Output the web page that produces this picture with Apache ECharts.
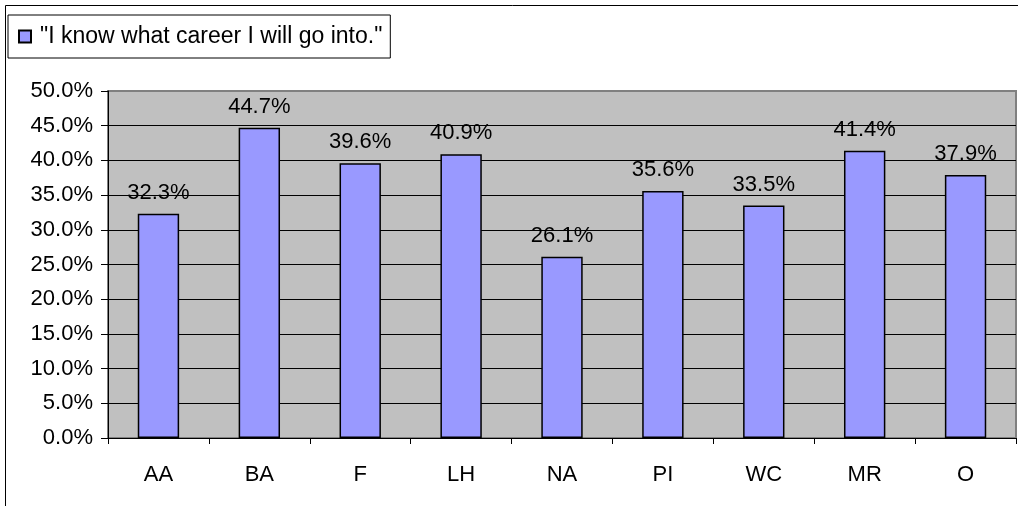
<!DOCTYPE html>
<html><head><meta charset="utf-8">
<script src="https://cdn.jsdelivr.net/npm/echarts@6/dist/echarts.min.js"></script>
<style>html,body{margin:0;padding:0;background:#fff}#c{width:1018px;height:506px}</style>
</head><body><div id="c"></div>
<script>
var categories = ["AA","BA","F","LH","NA","PI","WC","MR","O"];
var values = [32.3, 44.7, 39.6, 40.9, 26.1, 35.6, 33.5, 41.4, 37.9];
var seriesName = '"I know what career I will go into."';
var font = '"Liberation Sans", Arial, sans-serif';
var chart = echarts.init(document.getElementById('c'));
chart.setOption({
  animation: false,
  backgroundColor: '#fff',
  graphic: [
    {type:'rect', shape:{x:5.5,y:5.5,width:1030,height:520}, style:{fill:'none',stroke:'#000',lineWidth:1}, z:-1}
  ],
  legend: {
    left: 8, top: 15,
    padding: [10, 8, 10, 10],
    borderColor: '#000', borderWidth: 1,
    itemWidth: 12, itemHeight: 12, itemGap: 8,
    icon: 'rect',
    textStyle: {fontFamily: font, fontSize: 23, color: '#000', padding: [0, 0, 0, 4]},
    data: [seriesName]
  },
  grid: {left: 108, right: 2, top: 91, bottom: 68, show: true, backgroundColor: '#c0c0c0', borderColor: '#808080', borderWidth: 2},
  xAxis: {
    type: 'category', data: categories,
    axisLine: {lineStyle: {color: '#000', width: 1}},
    axisTick: {show: true, length: 6, inside: false, lineStyle: {color: '#000'}},
    axisLabel: {fontFamily: font, fontSize: 22, color: '#000', margin: 26}
  },
  yAxis: {
    type: 'value', min: 0, max: 50, interval: 5,
    axisLine: {show: true, lineStyle: {color: '#000'}},
    axisTick: {show: true, length: 7, lineStyle: {color: '#000'}},
    axisLabel: {fontFamily: font, fontSize: 22, color: '#000', margin: 15, formatter: function(v){return v.toFixed(1)+'%';}},
    splitLine: {show: true, lineStyle: {color: ['#000','#000','#000','#000','#000','#000','#000','#000','#000','#000','#808080'], width: 1}}
  },
  series: [{
    name: seriesName, type: 'bar', data: values, barWidth: '41%',
    itemStyle: {color: '#9999ff', borderColor: '#000', borderWidth: 1.5},
    label: {show: true, position: 'top', distance: 10, fontFamily: font, fontSize: 22, color: '#000', formatter: function(p){return p.value.toFixed(1)+'%';}}
  }]
});
</script></body></html>
